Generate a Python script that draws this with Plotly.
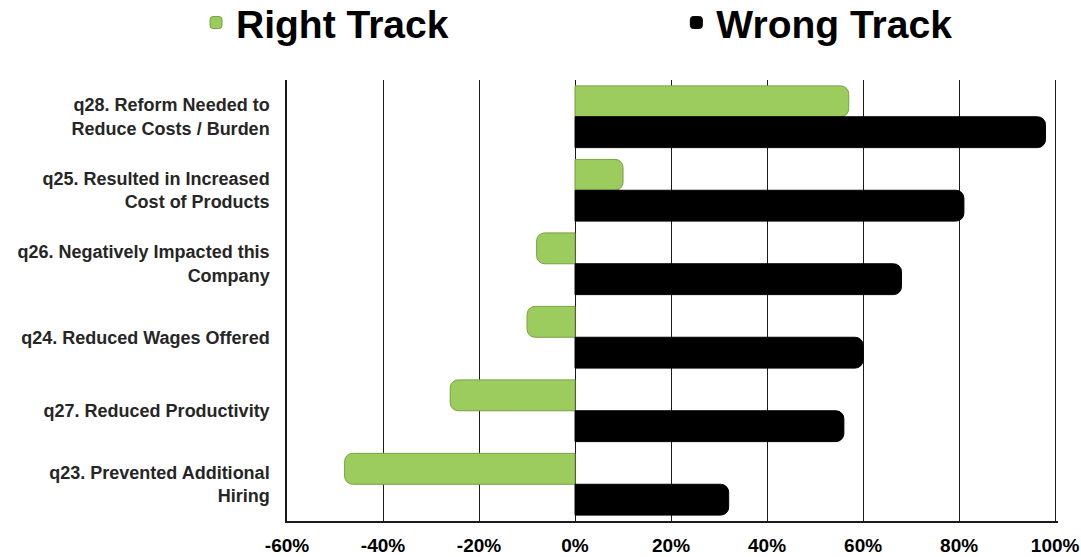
import plotly.graph_objects as go

categories = [
    "q28. Reform Needed to<br>Reduce Costs / Burden",
    "q25. Resulted in Increased<br>Cost of Products",
    "q26. Negatively Impacted this<br>Company",
    "q24. Reduced Wages Offered",
    "q27. Reduced Productivity",
    "q23. Prevented Additional<br>Hiring",
]
right_track = [57, 10, -8, -10, -26, -48]
wrong_track = [98, 81, 68, 60, 56, 32]
tick_vals = [-60, -40, -20, 0, 20, 40, 60, 80, 100]
tick_text = ["-60%", "-40%", "-20%", "0%", "20%", "40%", "60%", "80%", "100%"]

narrow = "Liberation Sans Narrow, Arial Narrow, Liberation Sans, Arial, sans-serif"
regular = "Liberation Sans, Arial, sans-serif"

fig = go.Figure()
fig.add_trace(go.Bar(
    name="Right Track", y=categories, x=right_track, orientation="h",
    marker=dict(color="#9CCC5E", line=dict(color="#78A044", width=1)),
    legend="legend",
))
fig.add_trace(go.Bar(
    name="Wrong Track", y=categories, x=wrong_track, orientation="h",
    marker=dict(color="#000000", line=dict(color="#000000", width=1)),
    legend="legend2",
))

legend_common = dict(
    orientation="h", y=1.13, yanchor="middle", xanchor="left",
    font=dict(family=narrow, size=39, color="#000000", weight="bold"),
    bgcolor="rgba(0,0,0,0)",
)

fig.update_layout(
    width=1081, height=557,
    margin=dict(l=287, r=23, t=80, b=36, autoexpand=False),
    paper_bgcolor="white", plot_bgcolor="white",
    barmode="group", bargap=0.16, barcornerradius=8,
    showlegend=True,
    legend=dict(legend_common, x=-0.118),
    legend2=dict(legend_common, x=0.505),
    xaxis=dict(
        range=[-60, 100.6], tickvals=tick_vals, ticktext=tick_text,
        showgrid=True, gridcolor="#1a1a1a", gridwidth=1,
        zeroline=True, zerolinecolor="#1a1a1a", zerolinewidth=1,
        showline=True, linecolor="#1a1a1a", linewidth=1.5,
        ticks="", ticklabelstandoff=6, ticklabeloverflow="allow",
        tickfont=dict(family=narrow, size=19, color="#000000", weight="bold"),
        fixedrange=True,
    ),
    yaxis=dict(
        autorange="reversed", showgrid=False, zeroline=False,
        showline=True, linecolor="#1a1a1a", linewidth=1.5,
        ticks="", ticklabelstandoff=12,
        tickfont=dict(family=regular, size=18, color="#262626", weight="bold"),
        fixedrange=True,
    ),
)

fig.write_html("out.html")
